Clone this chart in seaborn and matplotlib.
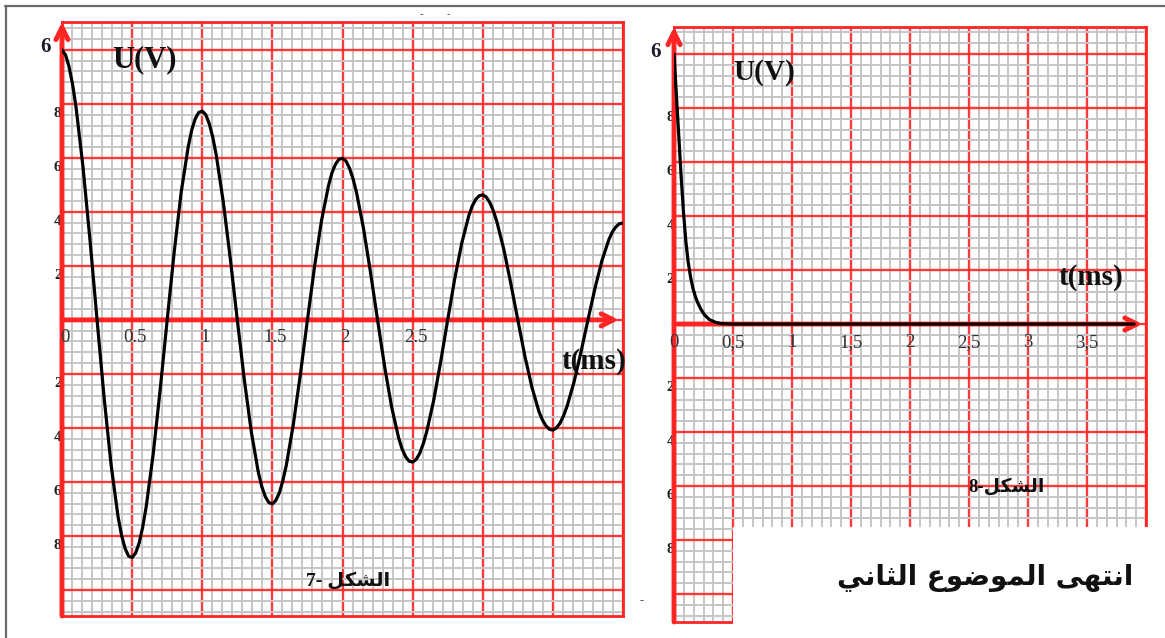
import numpy as np
import pandas as pd
import seaborn as sns
import matplotlib.pyplot as plt
from matplotlib.ticker import MultipleLocator
from matplotlib.patches import Rectangle
from matplotlib.lines import Line2D

# ------------------------------------------------------------
# données lues sur le papier millimétré
# ------------------------------------------------------------
# figure 7 : oscillations amorties, U(V) en fonction de t(ms)
t7 = [0.000, 0.025, 0.050, 0.075, 0.100, 0.150, 0.200, 0.250, 0.300, 0.350,
      0.400, 0.425, 0.450, 0.475, 0.500, 0.525, 0.550, 0.575, 0.600, 0.650,
      0.700, 0.750, 0.800, 0.850,
      0.900, 0.925, 0.950, 0.975, 1.000, 1.025, 1.050, 1.075, 1.100, 1.150,
      1.200, 1.250, 1.300, 1.350,
      1.400, 1.425, 1.450, 1.475, 1.500, 1.525, 1.550, 1.575, 1.600, 1.650,
      1.700, 1.750, 1.800, 1.850,
      1.900, 1.925, 1.950, 1.975, 2.000, 2.025, 2.050, 2.075, 2.100, 2.150,
      2.200, 2.250, 2.300, 2.350,
      2.400, 2.425, 2.450, 2.475, 2.500, 2.525, 2.550, 2.575, 2.600, 2.650,
      2.700, 2.750, 2.800, 2.850,
      2.900, 2.925, 2.950, 2.975, 3.000, 3.025, 3.050, 3.075, 3.100, 3.150,
      3.200, 3.250, 3.300, 3.350,
      3.400, 3.425, 3.450, 3.475, 3.500, 3.525, 3.550, 3.575, 3.600, 3.650,
      3.700, 3.750, 3.800, 3.850,
      3.900, 3.925, 3.950, 3.975, 4.000]
u7 = [6.00, 5.89, 5.63, 5.24, 4.73, 3.39, 1.76, 0.00, -1.72, -3.22,
      -4.38, -4.79, -5.08, -5.25, -5.28, -5.18, -4.96, -4.61, -4.16, -2.99,
      -1.55, 0.00, 1.51, 2.84,
      3.85, 4.22, 4.47, 4.61, 4.64, 4.56, 4.36, 4.06, 3.66, 2.62,
      1.36, 0.00, -1.33, -2.49,
      -3.39, -3.71, -3.93, -4.06, -4.09, -4.01, -3.84, -3.57, -3.22, -2.31,
      -1.20, 0.00, 1.17, 2.20,
      2.98, 3.27, 3.46, 3.57, 3.59, 3.53, 3.37, 3.14, 2.83, 2.03,
      1.05, 0.00, -1.03, -1.93,
      -2.62, -2.87, -3.04, -3.14, -3.16, -3.10, -2.97, -2.76, -2.49, -1.79,
      -0.93, 0.00, 0.91, 1.70,
      2.31, 2.53, 2.68, 2.76, 2.78, 2.73, 2.61, 2.43, 2.19, 1.57,
      0.81, 0.00, -0.80, -1.49,
      -2.03, -2.22, -2.35, -2.43, -2.45, -2.40, -2.30, -2.14, -1.93, -1.39,
      -0.72, 0.00, 0.70, 1.32,
      1.79, 1.96, 2.07, 2.14, 2.15]

# figure 8 : régime apériodique
t8 = [0.00, 0.02, 0.04, 0.06, 0.08, 0.10, 0.12, 0.14, 0.16, 0.18,
      0.20, 0.23, 0.26, 0.30, 0.35, 0.40, 0.50, 3.90]
u8 = [6.00, 5.10, 4.20, 3.30, 2.50, 1.85, 1.38, 1.05, 0.80, 0.62,
      0.48, 0.32, 0.20, 0.10, 0.04, 0.01, 0.00, 0.00]

x_pos7 = [0, 0.5, 1, 1.5, 2, 2.5]
x_lab7 = ["0", "0.5", "1", "1.5", "2", "2.5"]
x_pos8 = [0, 0.5, 1, 1.5, 2, 2.5, 3, 3.5]
x_lab8 = ["0", "0,5", "1", "1,5", "2", "2,5", "3", "3,5"]
y_pos = [4.8, 3.6, 2.4, 1.2, -1.2, -2.4, -3.6, -4.8]
y_lab = ["8", "6", "4", "2", "2", "4", "6", "8"]   # seul le dernier chiffre est visible

# textes arabes (formes de présentation, ordre visuel)
chakl = "\ufede\ufedc\ufeb8\ufedf\ufe8d"                      # الشكل
fin_sujet = ("\ufef2\ufee7\ufe8e\ufe9c\ufedf\ufe8d" + " " +    # الثاني
             "\ufec9\ufeee\ufebf\ufeee\ufee4\ufedf\ufe8d" + " " +  # الموضوع
             "\ufef0\ufeec\ufe98\ufee7\ufe8d")                 # انتهى

df7 = pd.DataFrame({"t": t7, "U": u7})
df8 = pd.DataFrame({"t": t8, "U": u8})

# ------------------------------------------------------------
# style
# ------------------------------------------------------------
sns.set_theme(style="white")
plt.rcParams["font.family"] = ["Liberation Serif", "DejaVu Sans"]

ROUGE = "#ff2424"
GRIS = "#c6c6c6"
W, H = 1165, 638

fig = plt.figure(figsize=(W / 100, H / 100), dpi=100)
fig.patch.set_facecolor("white")

ax7 = fig.add_axes([62 / W, (H - 616) / H, 561 / W, 594 / H])
ax8 = fig.add_axes([674 / W, (H - 622) / H, 472 / W, 595 / H])


def papier(ax, n_x, ylim):
    ax.set_xlim(0, 4.0)
    ax.set_ylim(*ylim)
    ax.set_xticks([0.5 * i for i in range(9)])
    ax.set_yticks([1.2 * i for i in range(-5, 6)])
    ax.xaxis.set_minor_locator(MultipleLocator(0.5 / n_x))
    ax.yaxis.set_minor_locator(MultipleLocator(0.24))
    ax.tick_params(which="both", length=0, labelbottom=False, labelleft=False)
    ax.grid(which="minor", color=GRIS, lw=1.4)
    ax.grid(which="major", color=ROUGE, lw=1.7, alpha=0.9)
    for s in ax.spines.values():
        s.set_color(ROUGE)
        s.set_linewidth(2)


def fleche(ax, debut, fin):
    ax.annotate("", xy=fin, xytext=debut, annotation_clip=False, zorder=3,
                arrowprops=dict(arrowstyle="->", color=ROUGE, lw=3.5,
                                mutation_scale=22, shrinkA=0, shrinkB=0))


# ------------------------------------------------------------
# figure 7
# ------------------------------------------------------------
papier(ax7, 7, (-6.58, 6.62))
fleche(ax7, (0, -6.58), (0, 6.62))
fleche(ax7, (0, 0), (3.97, 0))
sns.lineplot(data=df7, x="t", y="U", ax=ax7, color="black", lw=2.3,
             zorder=4, sort=False)
ax7.set_xlabel("")
ax7.set_ylabel("")

for x, s in zip(x_pos7, x_lab7):
    ax7.text(x + 0.02, -0.4, s, ha="center", va="center", fontsize=13.5,
             color="#333333", zorder=5)
for y, s in zip(y_pos, y_lab):
    ax7.text(-0.03, y - 0.22, s, ha="center", va="center", fontsize=11,
             fontweight="bold", color="#222222", zorder=2, clip_on=False)

ax7.text(-0.12, 6.07, "6", ha="center", va="center", fontsize=15,
         fontweight="bold", color="#1c1c2c", clip_on=False)
ax7.text(0.59, 5.78, "U(V)", ha="center", va="center", fontsize=22,
         fontweight="bold", color="#111111")
ax7.text(3.79, -0.93, "t(ms)", ha="center", va="center", fontsize=21,
         fontweight="bold", color="#111111", zorder=3)
ax7.text(2.04, -5.8, "7- " + chakl, ha="center", va="center", fontsize=14,
         fontweight="bold", color="#111111", zorder=5)

# ------------------------------------------------------------
# figure 8
# ------------------------------------------------------------
papier(ax8, 6, (-6.62, 6.6))
fleche(ax8, (0, -6.62), (0, 6.6))
fleche(ax8, (0, 0), (3.97, 0))
sns.lineplot(data=df8, x="t", y="U", ax=ax8, color="black", lw=2.3,
             zorder=4, sort=False)
ax8.set_xlabel("")
ax8.set_ylabel("")

for x, s in zip(x_pos8, x_lab8):
    ax8.text(x, -0.42, s, ha="center", va="center", fontsize=13.5,
             color="#333333", zorder=5)
for y, s in zip(y_pos, y_lab):
    ax8.text(-0.03, y - 0.22, s, ha="center", va="center", fontsize=11,
             fontweight="bold", color="#222222", zorder=2, clip_on=False)

ax8.text(-0.16, 6.04, "6", ha="center", va="center", fontsize=15,
         fontweight="bold", color="#1c1c2c", clip_on=False)
ax8.text(0.76, 5.58, "U(V)", ha="center", va="center", fontsize=21,
         fontweight="bold", color="#111111")
ax8.text(3.53, 1.04, "t(ms)", ha="center", va="center", fontsize=21,
         fontweight="bold", color="#111111")
ax8.text(2.82, -3.62, "8-" + chakl, ha="center", va="center", fontsize=13.5,
         fontweight="bold", color="#111111", zorder=5)

# cache blanc en bas à droite
ax8.add_patch(Rectangle((0.5, -7.2), 3.8, 7.2 - 4.51, facecolor="white",
                        edgecolor="none", zorder=6, clip_on=False))

# ------------------------------------------------------------
# textes de la page et cadre
# ------------------------------------------------------------
fig.text(985 / W, 1 - 578 / H, fin_sujet, ha="center", va="center",
         fontsize=20, fontweight="bold", family=["DejaVu Sans"],
         color="#111111", zorder=10)
fig.text(420 / W, 1 - 17 / H, "-", fontsize=8, color="#555555")
fig.text(447 / W, 1 - 17 / H, "-", fontsize=8, color="#555555")
fig.text(640 / W, 1 - 604 / H, "-", fontsize=9, color="#555555")

fig.add_artist(Line2D([5 / W, 1], [1 - 6 / H, 1 - 6 / H], color="#6a6a6a",
                      lw=1.6, transform=fig.transFigure))
fig.add_artist(Line2D([6 / W, 6 / W], [0, 1 - 6 / H], color="#6a6a6a",
                      lw=1.6, transform=fig.transFigure))

fig.savefig("out.png", dpi=100)
